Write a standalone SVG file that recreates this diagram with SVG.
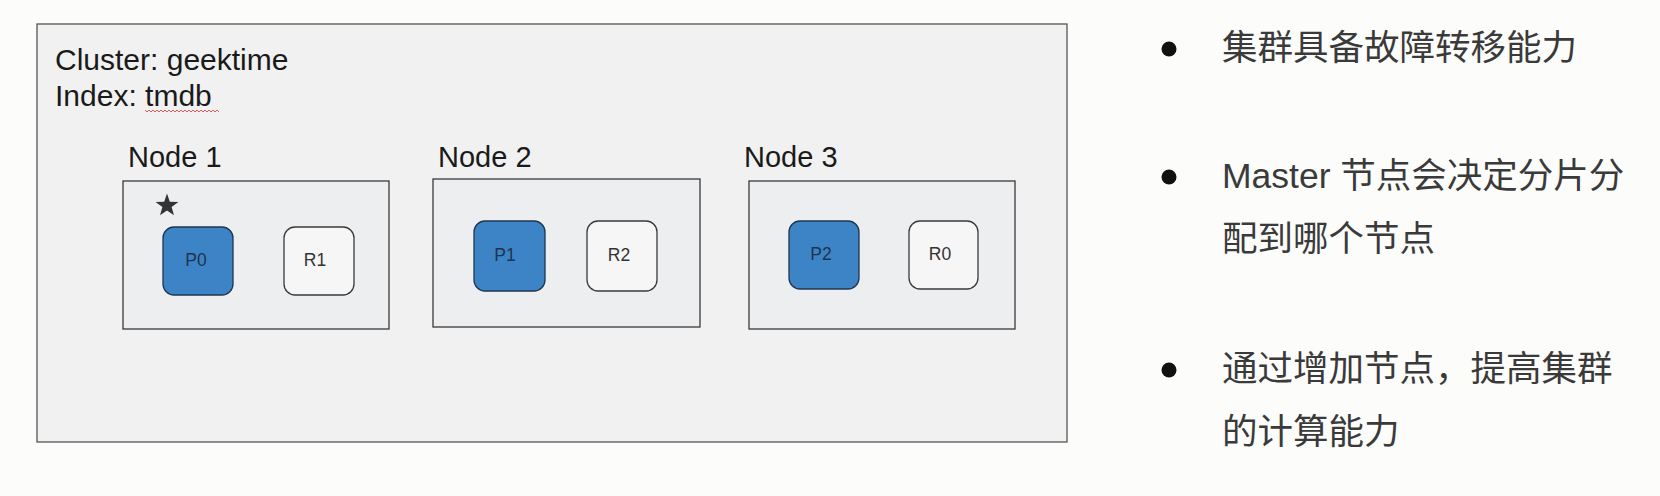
<svg xmlns="http://www.w3.org/2000/svg" width="1660" height="496" viewBox="0 0 1660 496">
  <style>
    .lbl { font-family: "Liberation Sans", "Noto Sans", Arial, sans-serif; fill: #1a1a1a; }
    .big { font-size: 30px; }
    .nodelbl { font-size: 29px; }
    .nodebox { fill: #eceeef; stroke: #3a3a3a; stroke-width: 1.3; }
    .pri { fill: #3d84c6; stroke: #1f3650; stroke-width: 1.3; }
    .rep { fill: #f6f6f6; stroke: #3a3a3a; stroke-width: 1.3; }
    .shard { font-family: "Liberation Sans", Arial, sans-serif; font-size: 17.5px; text-anchor: middle; }
    .pt { fill: #1d3450; }
    .rt { fill: #333333; }
    .cn { font-family: "Liberation Sans", "Noto Sans CJK SC", sans-serif; font-size: 35.5px; fill: #3a3a3a; }
    .dot { fill: #111111; }
  </style>
  <rect x="0" y="0" width="1660" height="496" fill="#fcfcfb"/>

  <g id="cluster">
    <rect x="37" y="24" width="1030" height="418" fill="#f1f1f1" stroke="#555555" stroke-width="1.3"/>
    <text class="lbl big" x="55" y="70">Cluster: geektime</text>
    <text class="lbl big" x="55" y="106">Index: tmdb</text>
    <polyline points="145,110 147,112 149,110 151,112 153,110 155,112 157,110 159,112 161,110 163,112 165,110 167,112 169,110 171,112 173,110 175,112 177,110 179,112 181,110 183,112 185,110 187,112 189,110 191,112 193,110 195,112 197,110 199,112 201,110 203,112 205,110 207,112 209,110 211,112 213,110 215,112 217,110 219,112" fill="none" stroke="#e04848" stroke-width="0.9"/>
  </g>

  <g id="node1">
    <text class="lbl nodelbl" x="128" y="167">Node 1</text>
    <rect class="nodebox" x="123" y="181" width="266" height="148"/>
    <polygon points="167,193.5 169.8,201.7 178.4,201.9 171.6,207.1 174,215.3 167,210.4 160,215.3 162.4,207.1 155.6,201.9 164.2,201.7" fill="#333333"/>
    <g id="p0">
      <rect class="pri" x="163" y="227" width="70" height="68" rx="11"/>
      <text class="shard pt" x="196" y="266">P0</text>
    </g>
    <g id="r1">
      <rect class="rep" x="284" y="227" width="70" height="68" rx="11"/>
      <text class="shard rt" x="315" y="266">R1</text>
    </g>
  </g>

  <g id="node2">
    <text class="lbl nodelbl" x="438" y="167">Node 2</text>
    <rect class="nodebox" x="433" y="179" width="267" height="148"/>
    <g id="p1">
      <rect class="pri" x="474" y="221" width="71" height="70" rx="11"/>
      <text class="shard pt" x="505" y="261">P1</text>
    </g>
    <g id="r2">
      <rect class="rep" x="587" y="221" width="70" height="70" rx="11"/>
      <text class="shard rt" x="619" y="261">R2</text>
    </g>
  </g>

  <g id="node3">
    <text class="lbl nodelbl" x="744" y="167">Node 3</text>
    <rect class="nodebox" x="749" y="181" width="266" height="148"/>
    <g id="p2">
      <rect class="pri" x="789" y="221" width="70" height="68" rx="11"/>
      <text class="shard pt" x="821" y="260">P2</text>
    </g>
    <g id="r0">
      <rect class="rep" x="909" y="221" width="69" height="68" rx="11"/>
      <text class="shard rt" x="940" y="260">R0</text>
    </g>
  </g>

  <g id="connectors"></g>

  <g id="bullets">
    <circle class="dot" cx="1169" cy="49" r="7.5"/>
    <text class="cn" x="1222" y="59.5">集群具备故障转移能力</text>
    <circle class="dot" cx="1169" cy="177" r="7.5"/>
    <text class="cn" x="1222" y="187.5">Master 节点会决定分片分</text>
    <text class="cn" x="1222" y="250.5">配到哪个节点</text>
    <circle class="dot" cx="1169" cy="370" r="7.5"/>
    <text class="cn" x="1222" y="381">通过增加节点，提高集群</text>
    <text class="cn" x="1222" y="444">的计算能力</text>
  </g>
</svg>
